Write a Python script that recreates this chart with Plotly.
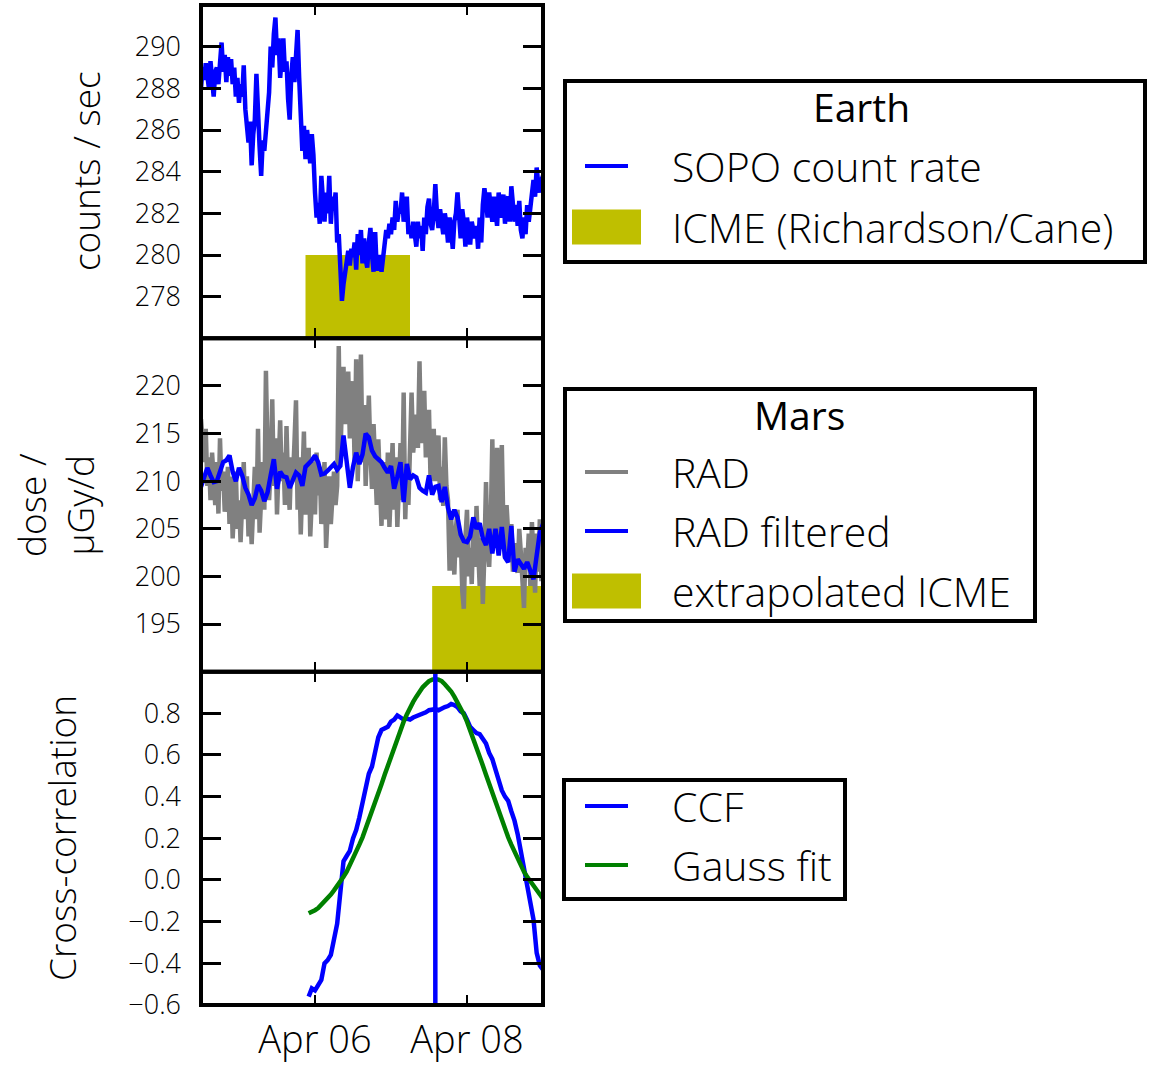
import pandas as pd
import plotly.graph_objects as go
from plotly.subplots import make_subplots

# ---------------------------------------------------------------- data
t_start = pd.Timestamp("2014-04-04 12:00")
x_range = ["2014-04-04 12:00", "2014-04-09 00:00"]
x_tick_vals = ["2014-04-06", "2014-04-08"]
x_tick_text = ["Apr 06", "Apr 08"]

# Earth: SOPO neutron monitor count rate (30-min samples)
sopo_time = pd.date_range(t_start, periods=217, freq="30min")
sopo_counts = [
    288.0, 289.0, 288.4, 289.2, 288.6, 288.0, 289.3, 288.5, 287.6, 288.8,
    289.0, 288.2, 289.4, 290.2, 288.8, 289.6, 288.3, 289.5, 288.6, 289.4,
    288.2, 289.0, 287.6, 288.5, 287.3, 288.2, 287.6, 289.1, 287.0, 286.0,
    285.4, 286.4, 284.3, 285.8, 286.5, 288.7, 286.0, 285.2, 283.8, 285.5,
    285.0, 286.2, 287.0, 287.8, 290.0, 289.0, 290.6, 291.4, 289.6, 290.4,
    288.5, 289.8, 290.4, 288.8, 289.3, 287.5, 286.5, 288.6, 289.5, 288.3,
    290.2, 290.8, 288.5, 287.0, 285.0, 286.2, 284.6, 286.0, 285.2, 284.4,
    285.8, 284.8, 283.0, 281.8, 282.5, 281.5, 283.8, 282.2, 281.6, 283.0,
    282.0, 283.8, 281.5, 282.8, 282.2, 283.0, 280.6, 281.0, 279.0, 277.8,
    278.6, 279.2, 279.8, 280.2, 279.5, 280.3, 279.9, 280.6, 279.3, 281.0,
    280.0, 281.2, 279.6, 280.8, 279.8, 279.4, 280.6, 281.3, 280.0, 279.2,
    281.1, 279.3, 279.4, 280.0, 279.2, 279.8, 280.6, 281.2, 280.8, 281.5,
    281.0, 281.8, 281.2, 282.6, 281.6, 282.2, 282.0, 283.0, 281.6, 282.2,
    282.8, 281.0, 281.4, 280.8, 281.6, 281.0, 280.4, 281.6, 280.8, 281.4,
    280.2, 281.8, 281.0, 282.3, 282.7, 281.5, 281.2, 282.0, 283.4, 282.0,
    281.3, 282.2, 281.6, 281.0, 282.0, 281.5, 280.6, 281.8, 281.2, 280.3,
    281.6, 282.0, 283.0, 281.4, 280.8, 282.2, 281.6, 280.4, 281.8, 281.2,
    280.5, 281.6, 281.0, 280.8, 281.4, 280.3, 281.8, 280.6, 282.4, 283.2,
    282.6, 281.8, 283.0, 282.0, 281.6, 282.8, 282.2, 281.4, 283.0, 281.8,
    282.2, 282.9, 281.5, 282.6, 282.8, 281.6, 283.3, 282.0, 281.6, 282.4,
    281.4, 282.6, 281.2, 280.8, 281.8, 281.0, 282.4, 281.6, 282.2, 283.0,
    283.6, 282.8, 284.2, 283.4, 283.0, 283.6, 283.8,
]

# Earth: ICME interval (Richardson/Cane list)
earth_icme_start = "2014-04-05 21:00"
earth_icme_end = "2014-04-07 06:00"
earth_icme_top = 280.0
earth_floor = 270.0

# Mars: RAD dose rate (30-min samples) and its filtered version (hourly)
rad_time = pd.date_range(t_start, periods=217, freq="30min")
rad_dose = [
    216.5, 214.0, 212.0, 215.5, 209.5, 212.5, 208.0, 213.0, 210.5, 207.5,
    212.0, 206.6, 214.5, 209.0, 211.0, 206.8, 208.5, 211.5, 205.5, 210.5,
    204.0, 208.5, 211.0, 205.0, 208.0, 203.6, 209.5, 212.0, 206.0, 210.5,
    204.2, 207.5, 203.4, 209.0, 211.5, 206.0, 215.5, 204.6, 209.5, 212.0,
    207.0, 221.6, 213.0, 208.0, 211.5, 218.6, 209.5, 214.5, 206.5, 213.5,
    216.4, 210.0, 213.0, 207.5, 215.8, 209.5, 207.0, 212.5, 210.0, 214.0,
    218.5, 207.0, 212.5, 204.4, 209.0, 215.2, 206.5, 211.0, 213.5, 204.2,
    209.5, 212.0, 206.5, 213.0, 208.5, 211.5, 205.5, 209.0, 212.0, 203.0,
    207.0, 210.5, 205.5, 208.0, 211.0, 207.5, 209.5, 224.2, 212.0, 218.5,
    222.0, 216.0, 219.0, 221.5, 214.5, 218.0, 220.5, 212.0, 222.8, 210.0,
    216.5, 223.3, 212.0, 218.0, 209.5, 215.5, 219.0, 213.0, 209.2, 216.0,
    212.0, 207.5, 214.4, 210.5, 205.3, 212.0, 209.0, 206.0, 213.0, 205.2,
    209.5, 214.0, 207.0, 212.5, 205.2, 210.0, 214.0, 208.0, 219.3, 206.0,
    211.5, 207.5, 216.0, 219.3, 213.0, 215.5, 217.0, 213.5, 222.6, 214.0,
    216.0, 219.5, 212.5, 215.0, 217.5, 210.0, 213.0, 215.5, 210.0, 213.5,
    214.8, 208.0, 211.5, 207.4, 214.6, 209.5, 208.0, 200.6, 206.0, 203.5,
    200.2, 205.0, 207.0, 202.0, 204.5, 198.5, 196.6, 204.0, 207.0, 200.0,
    203.0, 199.2, 205.5, 201.0, 207.4, 203.0, 199.0, 204.0, 197.1, 202.5,
    209.9, 203.0, 201.0, 205.5, 214.4, 204.0, 206.0, 213.5, 203.0, 209.0,
    213.8, 205.0, 202.0, 207.5, 204.0, 201.5, 205.5, 200.5, 203.5, 201.0,
    200.4, 205.0, 202.5, 199.5, 196.7, 203.0, 201.0, 204.5, 199.0, 205.7,
    202.0, 198.3, 204.5, 200.5, 206.0, 199.5, 205.0,
]

rad_filt_time = pd.date_range(t_start, periods=109, freq="60min")
rad_filtered = [
    209.4, 210.6, 211.4, 210.6, 209.9, 210.0, 211.0, 212.0, 212.2, 212.7,
    211.0, 210.0, 211.4, 210.6, 209.3, 208.6, 207.5, 208.2, 209.6, 209.0,
    207.9, 208.8, 210.6, 212.3, 209.2, 211.0, 210.5, 210.4, 209.3, 210.0,
    210.9, 210.6, 209.5, 211.5, 211.8, 212.2, 212.7, 212.0, 210.7, 210.8,
    211.1, 211.4, 211.8, 211.2, 211.6, 214.8, 212.0, 209.3, 211.5, 213.0,
    211.8, 212.8, 215.0, 214.6, 213.2, 212.6, 212.3, 212.0, 211.4, 210.9,
    211.6, 209.2, 210.5, 212.0, 207.8, 211.8, 210.2, 210.6, 210.4, 209.3,
    209.0, 208.8, 210.6, 208.6, 209.4, 209.5, 207.8, 209.4, 207.2, 206.0,
    207.0, 206.2, 204.4, 203.7, 203.6, 204.2, 206.2, 205.0, 205.6, 204.0,
    203.3, 205.0, 202.4, 205.0, 202.2, 205.2, 202.0, 201.5, 205.3, 200.5,
    201.8, 201.2, 200.8, 201.5, 200.6, 199.7, 202.2, 204.6, 205.5,
]

# Mars: extrapolated ICME arrival
mars_icme_start = "2014-04-07 13:00"
mars_icme_end = "2014-04-10 00:00"
mars_icme_top = 199.0
mars_floor = 185.0

# Cross-correlation function and its Gaussian fit (hourly lags)
ccf_time = pd.date_range("2014-04-05 22:00", periods=75, freq="60min")
ccf_values = [
    -0.56, -0.52, -0.53, -0.50, -0.48, -0.40, -0.385, -0.36, -0.27, -0.21,
    -0.06, 0.09, 0.115, 0.14, 0.20, 0.24, 0.30, 0.37, 0.45, 0.51,
    0.545, 0.61, 0.685, 0.72, 0.725, 0.735, 0.76, 0.77, 0.79, 0.78,
    0.77, 0.775, 0.77, 0.78, 0.785, 0.79, 0.80, 0.805, 0.815, 0.82,
    0.82, 0.815, 0.825, 0.83, 0.835, 0.845, 0.84, 0.83, 0.81, 0.80,
    0.77, 0.735, 0.72, 0.705, 0.70, 0.675, 0.655, 0.61, 0.58, 0.53,
    0.47, 0.43, 0.40, 0.38, 0.33, 0.285, 0.22, 0.14, 0.05, -0.01,
    -0.09, -0.19, -0.35, -0.41, -0.43,
]
gauss_values = [
    -0.16, -0.155, -0.145, -0.135, -0.12, -0.105, -0.09, -0.07, -0.05, -0.03,
    -0.005, 0.015, 0.04, 0.07, 0.10, 0.135, 0.17, 0.205, 0.245, 0.285,
    0.325, 0.37, 0.415, 0.46, 0.505, 0.55, 0.595, 0.64, 0.68, 0.72,
    0.76, 0.795, 0.83, 0.855, 0.88, 0.905, 0.925, 0.94, 0.955, 0.962,
    0.965, 0.962, 0.955, 0.94, 0.925, 0.905, 0.88, 0.855, 0.83, 0.795,
    0.76, 0.72, 0.68, 0.64, 0.595, 0.55, 0.505, 0.46, 0.415, 0.37,
    0.325, 0.285, 0.245, 0.205, 0.17, 0.135, 0.10, 0.07, 0.04, 0.015,
    -0.005, -0.03, -0.05, -0.07, -0.09,
]
ccf_peak_time = "2014-04-07 14:00"

# axis ranges and ticks
y1_range, y1_ticks = [276, 292], [278, 280, 282, 284, 286, 288, 290]
y2_range, y2_ticks = [190, 225], [195, 200, 205, 210, 215, 220]
y3_range = [-0.6, 1.0]
y3_ticks = [-0.6, -0.4, -0.2, 0.0, 0.2, 0.4, 0.6, 0.8]
y3_text = ["\u22120.6", "\u22120.4", "\u22120.2", "0.0", "0.2", "0.4", "0.6", "0.8"]

# ---------------------------------------------------------------- style
BLUE, GRAY, GREEN, OLIVE = "#0000ff", "#808080", "#008000", "#bfbf00"
FONT = "Open Sans"
LW = 4.5

fig = make_subplots(rows=3, cols=1, shared_xaxes=True, vertical_spacing=0)

# Earth panel
fig.add_trace(go.Scatter(
    x=[earth_icme_start, earth_icme_start, earth_icme_end, earth_icme_end],
    y=[earth_floor, earth_icme_top, earth_icme_top, earth_floor],
    fill="toself", fillcolor=OLIVE, line=dict(width=0), mode="lines",
    hoverinfo="skip"), row=1, col=1)
fig.add_trace(go.Scatter(x=sopo_time, y=sopo_counts, mode="lines",
                         line=dict(color=BLUE, width=LW)), row=1, col=1)

# Mars panel
fig.add_trace(go.Scatter(
    x=[mars_icme_start, mars_icme_start, mars_icme_end, mars_icme_end],
    y=[mars_floor, mars_icme_top, mars_icme_top, mars_floor],
    fill="toself", fillcolor=OLIVE, line=dict(width=0), mode="lines",
    hoverinfo="skip"), row=2, col=1)
fig.add_trace(go.Scatter(x=rad_time, y=rad_dose, mode="lines",
                         line=dict(color=GRAY, width=LW)), row=2, col=1)
fig.add_trace(go.Scatter(x=rad_filt_time, y=rad_filtered, mode="lines",
                         line=dict(color=BLUE, width=LW)), row=2, col=1)

# Cross-correlation panel
fig.add_trace(go.Scatter(x=ccf_time, y=ccf_values, mode="lines",
                         line=dict(color=BLUE, width=LW)), row=3, col=1)
fig.add_trace(go.Scatter(x=ccf_time, y=gauss_values, mode="lines",
                         line=dict(color=GREEN, width=LW)), row=3, col=1)
fig.add_trace(go.Scatter(x=[ccf_peak_time, ccf_peak_time], y=[y3_range[0] - 1, y3_range[1] + 1],
                         mode="lines", line=dict(color=BLUE, width=LW)), row=3, col=1)

# ---------------------------------------------------------------- axes
for r in (1, 2, 3):
    fig.update_xaxes(
        row=r, col=1, type="date", range=x_range,
        tickmode="array", tickvals=x_tick_vals, ticktext=x_tick_text,
        ticks="inside", ticklen=10, tickwidth=2, tickcolor="black",
        mirror="ticks", showline=False, showgrid=False, zeroline=False,
        showticklabels=(r == 3), ticklabelstandoff=9, automargin=False,
        tickfont=dict(family=FONT, size=38, color="black", weight=300),
    )

y_common = dict(ticks="inside", ticklen=20, tickwidth=2.5, tickcolor="black",
                mirror="ticks", showline=False, showgrid=False, zeroline=False,
                ticklabelstandoff=19, automargin=False,
                tickfont=dict(family=FONT, size=27, color="black", weight=300))

fig.update_yaxes(row=1, col=1, range=y1_range, tickvals=y1_ticks, **y_common)
fig.update_yaxes(row=2, col=1, range=y2_range, tickvals=y2_ticks, **y_common)
fig.update_yaxes(row=3, col=1, range=y3_range, tickvals=y3_ticks, ticktext=y3_text, **y_common)

# ---------------------------------------------------------------- frames
shapes = []
for ax in ("", "2", "3"):
    shapes.append(dict(type="rect", xref=f"x{ax} domain", yref=f"y{ax} domain",
                       x0=0, x1=1, y0=0, y1=1, line=dict(color="black", width=4)))

# ---------------------------------------------------------------- pixel -> paper helpers
L, R, T, B = 201, 606, 5, 60
W, H = 1149, 1065


def fx(px):
    return (px - L) / (W - L - R)


def fy(py):
    return (H - B - py) / (H - T - B)


annotations = []

# y-axis titles, rotated
title_font = dict(family=FONT, size=37, color="black", weight=300)
for text, cx, cy in (("counts / sec", 85, 171),
                     ("dose /<br>\u00b5Gy/d", 55, 505),
                     ("Cross-correlation", 61, 838)):
    annotations.append(dict(xref="paper", yref="paper", x=fx(cx), y=fy(cy), text=text,
                            textangle=-90, showarrow=False, xanchor="center", yanchor="middle",
                            font=title_font))


# ---------------------------------------------------------------- legend boxes
def legend_box(x0, x1, y0, y1, title, title_y, title_x, items):
    shapes.append(dict(type="rect", xref="paper", yref="paper",
                       x0=fx(x0), x1=fx(x1), y0=fy(y1), y1=fy(y0),
                       line=dict(color="black", width=4), fillcolor="white", layer="above"))
    if title:
        annotations.append(dict(xref="paper", yref="paper", x=fx(title_x), y=fy(title_y),
                                text=title, showarrow=False, xanchor="center", yanchor="middle",
                                font=dict(family=FONT, size=39, color="black", weight=500)))
    for kind, color, label, yc in items:
        if kind == "line":
            shapes.append(dict(type="line", xref="paper", yref="paper",
                               x0=fx(585), x1=fx(628), y0=fy(yc), y1=fy(yc),
                               line=dict(color=color, width=4), layer="above"))
        else:
            shapes.append(dict(type="rect", xref="paper", yref="paper",
                               x0=fx(572), x1=fx(641), y0=fy(yc + 17.5), y1=fy(yc - 17.5),
                               fillcolor=color, line=dict(width=0), layer="above"))
        annotations.append(dict(xref="paper", yref="paper", x=fx(670), y=fy(yc),
                                text=label, showarrow=False, xanchor="left", yanchor="middle",
                                font=dict(family=FONT, size=41, color="black", weight=300)))


legend_box(565, 1145, 81, 262, "Earth", 107, 861,
           [("line", BLUE, "SOPO count rate", 166),
            ("rect", OLIVE, "ICME (Richardson/Cane)", 227)])
legend_box(565, 1035, 389, 621, "Mars", 414, 799,
           [("line", GRAY, "RAD", 472),
            ("line", BLUE, "RAD filtered", 531),
            ("rect", OLIVE, "extrapolated ICME", 591)])
legend_box(564, 845, 780, 899, None, None, None,
           [("line", BLUE, "CCF", 806),
            ("line", GREEN, "Gauss fit", 865)])

fig.update_layout(
    width=W, height=H,
    margin=dict(l=L, r=R, t=T, b=B, autoexpand=False),
    paper_bgcolor="white", plot_bgcolor="white",
    showlegend=False,
    font=dict(family=FONT, color="black"),
    shapes=shapes, annotations=annotations,
)

fig.write_html("out.html")
